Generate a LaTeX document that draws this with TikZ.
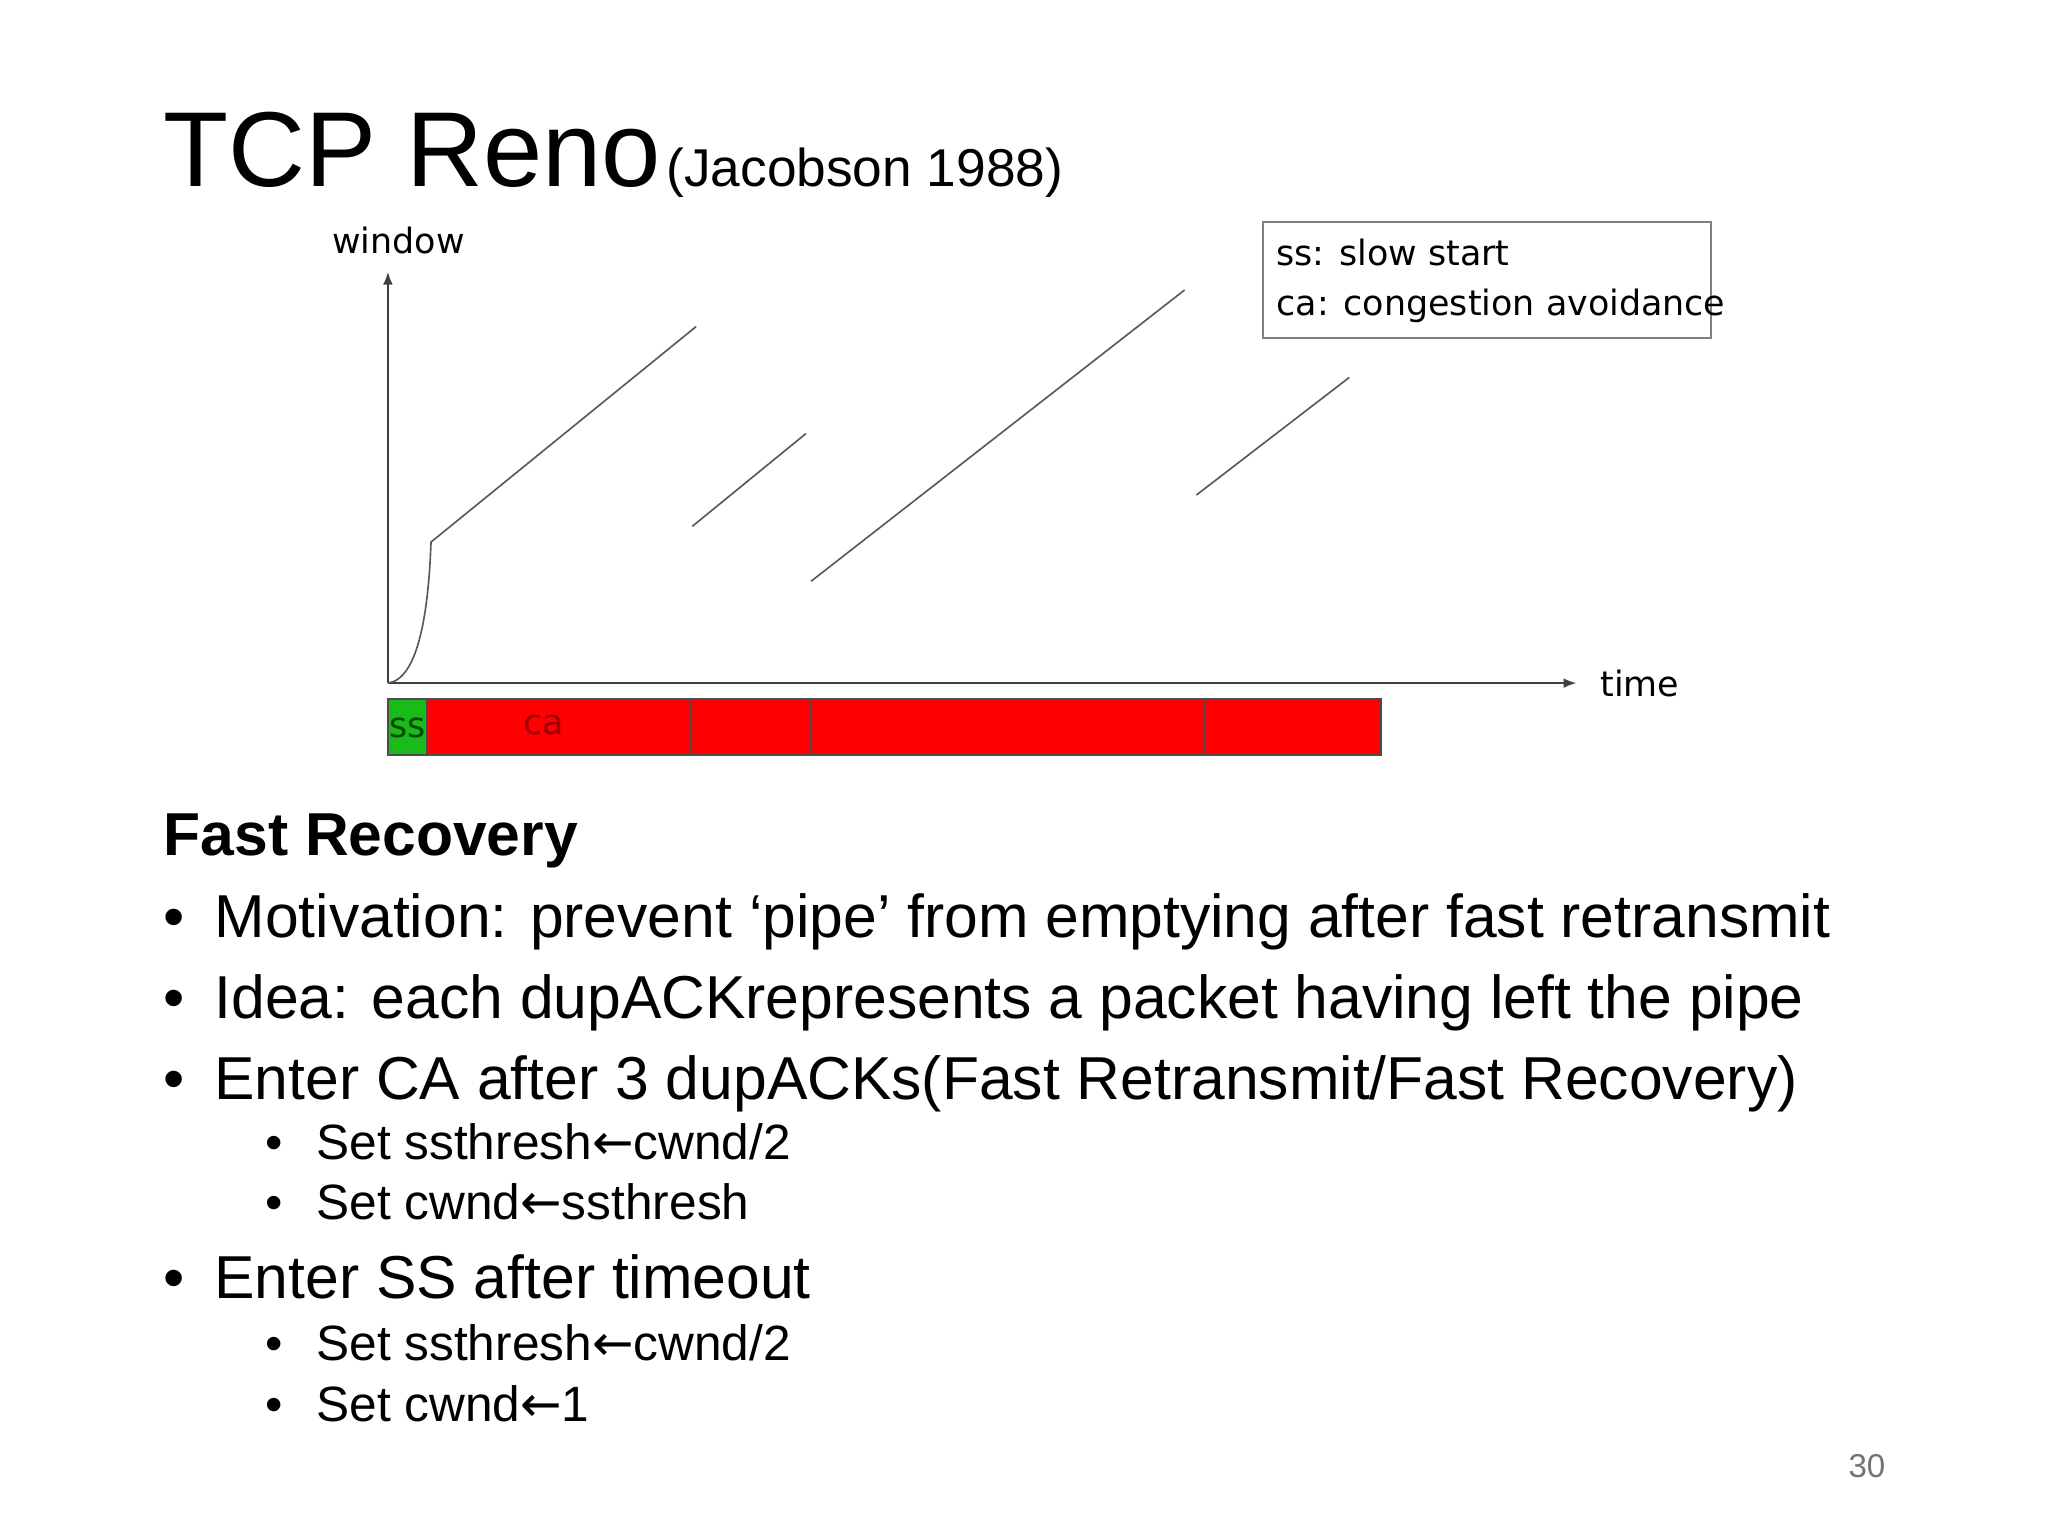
\documentclass[tikz,border=0pt]{standalone}
\usepackage{fontspec}
\setmainfont{Liberation Sans}
\newfontfamily\dv{DejaVu Sans}
\usetikzlibrary{arrows.meta}
\begin{document}
\begin{tikzpicture}[x=0.025cm,y=-0.025cm,
  txt/.style={anchor=base west,inner sep=0},
  big/.style={txt,font=\fontsize{33}{36}\selectfont},
  sub/.style={txt,font=\fontsize{27}{30}\selectfont},
  lab/.style={font=\dv\fontsize{19}{22}\selectfont,inner sep=0},
  seg/.style={draw=black!65,line width=0.9pt},
  bar/.style={draw=black!70,line width=1pt}]
\useasboundingbox (0,0) rectangle (1568,1176);
\node[txt,font=\fontsize{58}{60}\selectfont] (t) at (125,143) {TCP Reno};
\node[txt,font=\fontsize{29}{30}\selectfont] (t2) at (510,143) {(Jacobson 1988)};
% axes
\coordinate (o) at (297,523);
\coordinate (ytop) at (297,208);
\coordinate (xend) at (1207,523);
\draw[black!75,line width=1pt,-{Latex[length=7pt]}] (o) -- (ytop);
\draw[black!75,line width=1pt,-{Latex[length=7pt]}] (o) -- (xend);
\node[lab,anchor=south] (w) at (305,195) {window};
\node[lab,anchor=west] (tm) at (1225,523) {time};
\draw[seg] (297,523) .. controls (320,520) and (328,470) .. (330,415) -- (533,250);
\draw[seg] (530,403) -- (617,332);
\draw[seg] (621,445) -- (907,222);
\draw[seg] (916,379) -- (1033,289);
\node[draw=black!50,line width=1pt,minimum width=343*0.025cm,minimum height=89*0.025cm,anchor=north west] (leg) at (966,169) {};
\node[lab,anchor=west] at (977,193) {ss: slow start};
\node[lab,anchor=west] at (977,234) {ca: congestion avoidance};
% bars
\fill[green!70!black!90] (297,535) rectangle (327,578);
\draw[bar] (297,535) rectangle (327,578);
\foreach \a/\b in {327/528,528/620,620/922,922/1057}{
  \fill[red] (\a,535) rectangle (\b,578);
  \draw[bar] (\a,535) rectangle (\b,578);}
\node[lab,text=green!30!black] at (312,557) {ss};
\node[lab,text=red!60!black] at (416,555) {ca};
% text
\node[txt,font=\bfseries\fontsize{33}{36}\selectfont] at (125,655) {Fast Recovery};
\foreach \y/\s in {718/{Motivation: prevent ‘pipe’ from emptying after fast retransmit},
  780/{Idea: each dupACKrepresents a packet having left the pipe},
  842/{Enter CA after 3 dupACKs(Fast Retransmit/Fast Recovery)},
  994/{Enter SS after timeout}}{
  \node[big] at (125,\y) {•};
  \node[big] at (164,\y) {\s};}
\foreach \y/\s in {888/{Set ssthresh{\dv←}cwnd/2},934/{Set cwnd{\dv←}ssthresh},
  1042/{Set ssthresh{\dv←}cwnd/2},1088/{Set cwnd{\dv←}1}}{
  \node[sub] at (203,\y) {•};
  \node[sub] at (242,\y) {\s};}
\node[txt,font=\fontsize{18}{20}\selectfont,text=black!55] at (1415,1131) {30};
\end{tikzpicture}
\end{document}
